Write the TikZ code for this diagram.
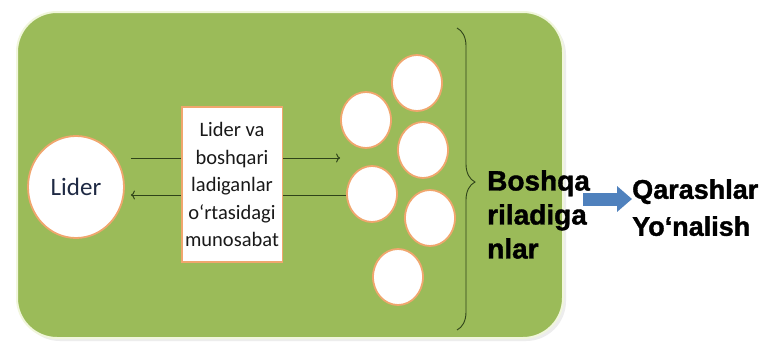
\documentclass[tikz,border=0pt]{standalone}
\usepackage{fontspec}
\setmainfont{Carlito}
\newfontfamily\arialfont{Liberation Sans}[BoldFeatures={FakeBold=1.3}]
\usetikzlibrary{shapes.geometric,arrows.meta,decorations.pathreplacing}

\definecolor{panelgreen}{HTML}{9BBB59}
\definecolor{panelrim}{HTML}{F1F6DC}
\definecolor{ringorange}{HTML}{F0A66E}
\definecolor{linegreen}{HTML}{2F431A}
\definecolor{arrowblue}{HTML}{4F81BD}
\definecolor{lidertext}{HTML}{1F2A44}

\begin{document}
\begin{tikzpicture}[x=1pt,y=-1pt,
	member/.style={ellipse,draw=ringorange,line width=1.8pt,fill=white,
		minimum width=50pt,minimum height=56pt,inner sep=0pt},
	relline/.style={draw=linegreen,line width=1pt,>={To[length=4pt,width=9pt]}},
	bigword/.style={anchor=north west,inner sep=0pt,align=left,
		font=\arialfont\bfseries\fontsize{28}{34}\selectfont}]

	% page and panel
	\useasboundingbox (0,0) rectangle (768,343);
	\fill[white] (0,0) rectangle (768,343);
	\fill[black!7, rounded corners=40pt] (20,15) rectangle (566,341);
	\draw[fill=panelgreen, draw=panelrim, line width=2pt, rounded corners=40pt] (17,12) rectangle (563,338);

	% leader and relation box
	\node[ellipse, draw=ringorange, line width=1.8pt, fill=white, minimum width=96pt, minimum height=102pt]
		(lider) at (76,187) {\color{lidertext}\fontsize{25}{29}\selectfont Lider};
	\node[draw=ringorange, line width=1.5pt, fill=white, minimum width=100pt, minimum height=155pt,
		align=center, text=black!90, font=\fontsize{20.5}{27.5}\selectfont]
		(rel) at (232,184.5) {Lider va\\boshqari\\ladiganlar\\o‘rtasidagi\\munosabat};

	% the led ones
	\node[member] (m1) at (417,83) {};
	\node[member] (m2) at (366,120) {};
	\node[member] (m3) at (423,150) {};
	\node[member] (m4) at (372,194) {};
	\node[member] (m5) at (430,218) {};
	\node[member] (m6) at (398,277) {};

	% relation lines
	\draw[relline, shorten <=6pt] (lider.east |- 0,158) -- (rel.west |- 0,158);
	\draw[relline, ->] (rel.east |- 0,158) -- (m2.west |- 0,158);
	\draw[relline, <-, shorten <=6pt] (lider.east |- 0,195) -- (rel.west |- 0,195);
	\draw[relline] (rel.east |- 0,195) -- (m4.west |- 0,195);

	% brace and labels
	\draw[linegreen, line width=0.9pt, decorate, decoration={brace, amplitude=18pt, aspect=0.51}]
		(457,28) -- (457,330);
	\node[bigword] (led) at (487,170) {Boshqa\\riladiga\\nlar};
	\node[bigword, font=\arialfont\bfseries\fontsize{27}{37}\selectfont] (views) at (632,179) {Qarashlar\\Yo‘nalish};

	% blue arrow
	\draw[arrowblue, line width=13pt, -{Triangle[width=25pt,length=15pt]}] (583,199) -- (views.west |- 0,199);

\end{tikzpicture}
\end{document}
